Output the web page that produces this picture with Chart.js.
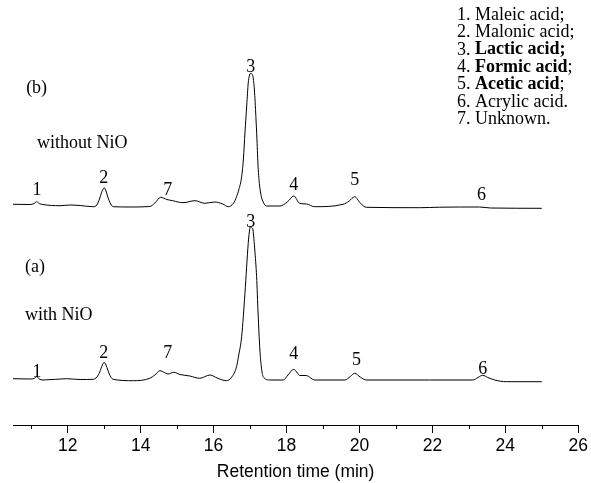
<!DOCTYPE html>
<html>
<head>
<meta charset="utf-8">
<script src="https://cdn.jsdelivr.net/npm/chart.js@4.4.0/dist/chart.umd.min.js"></script>
<style>
    body { margin: 0; background: #fff; }
</style>
</head>
<body>
<canvas id="hplcChart" width="591" height="483"></canvas>
<script>
// Retention time (min) and detector signal (offset units) for each trace
const timesB = [10.50, 10.97, 11.08, 11.15, 11.22, 11.32, 11.79, 12.06, 12.34, 12.69, 12.80, 12.88, 12.95, 13.00, 13.05, 13.10, 13.18, 13.25, 13.71, 14.25, 14.39, 14.55, 14.72, 14.88, 15.16, 15.49, 15.76, 16.03, 16.25, 16.40, 16.55, 16.63, 16.69, 16.77, 16.82, 16.86, 16.91, 16.95, 16.98, 17.01, 17.05, 17.08, 17.12, 17.16, 17.19, 17.22, 17.26, 17.31, 17.36, 17.45, 17.82, 18.03, 18.20, 18.36, 18.55, 18.77, 19.55, 19.72, 19.87, 20.02, 20.19, 21.65, 22.20, 23.29, 23.60, 25.00];
const signalB = [220.7, 220.5, 221.5, 223.3, 221.5, 220.5, 219.3, 220, 219.5, 218.3, 220, 227, 234.5, 237.3, 234, 228, 221, 218.3, 218, 218.5, 222, 227.7, 225.5, 224.3, 222.3, 224.3, 221.7, 223, 221, 218.3, 222, 228.3, 235, 248.3, 267, 292, 320, 342, 349, 351.7, 351, 348.3, 335, 308.3, 285, 258.3, 240, 228.3, 223, 219, 219, 223.3, 229, 221.7, 221, 218.3, 220.7, 224, 228.3, 222, 217.7, 217.3, 217.8, 218, 217, 216.7];

const timesA = [10.50, 10.97, 11.08, 11.15, 11.22, 11.32, 11.97, 12.34, 12.70, 12.80, 12.88, 12.95, 13.00, 13.05, 13.10, 13.18, 13.25, 13.80, 14.25, 14.39, 14.53, 14.65, 14.75, 14.91, 15.08, 15.35, 15.62, 15.90, 16.10, 16.35, 16.50, 16.63, 16.69, 16.77, 16.86, 16.95, 16.98, 17.01, 17.05, 17.08, 17.13, 17.18, 17.22, 17.27, 17.31, 17.36, 17.54, 17.91, 18.04, 18.20, 18.30, 18.36, 18.54, 18.77, 19.60, 19.75, 19.87, 20.02, 20.19, 21.92, 23.11, 23.25, 23.38, 23.52, 23.71, 24.03, 25.00];
const signalA = [46.3, 46, 46.5, 48.3, 46, 45, 46.3, 45.5, 45.7, 48, 53, 60, 62.7, 60, 55, 48, 45.7, 44.3, 46.7, 50, 54.3, 52.5, 51, 52.7, 50.5, 49, 46.7, 50, 47, 44.3, 48, 58.3, 70, 88.3, 131.7, 181.7, 193, 198.3, 197.5, 195, 175, 148.3, 112, 75, 58, 48.3, 45, 45, 50, 55.7, 52, 49.5, 49.5, 45, 45, 48.5, 51.7, 48, 45, 45, 45, 47.5, 49.7, 47.5, 45, 43.3, 43.3];

// Peak number labels: [label, time, height]
const peakLabelsB = [['1', 11.16, 235], ['2', 12.99, 247], ['7', 14.74, 235], ['3', 17.02, 358], ['4', 18.20, 240], ['5', 19.87, 245], ['6', 23.35, 230]];
const peakLabelsA = [['1', 11.16, 53], ['2', 12.99, 72], ['7', 14.74, 72], ['3', 17.02, 203], ['4', 18.20, 71], ['5', 19.92, 65], ['6', 23.38, 56]];

// Trace captions: [text, time, height]
const traceCaptions = [['(b)', 10.86, 337], ['without NiO', 11.16, 282], ['(a)', 10.83, 158], ['with NiO', 10.83, 110]];

// Compound list: [number, name, tail, bold]
const compounds = [
    ['1. ', 'Maleic acid', ';', false],
    ['2. ', 'Malonic acid', ';', false],
    ['3. ', 'Lactic acid;', '', true],
    ['4. ', 'Formic acid', ';', true],
    ['5. ', 'Acetic acid', ';', true],
    ['6. ', 'Acrylic acid.', '', false],
    ['7. ', 'Unknown.', '', false]
];

const xTicks = [12, 14, 16, 18, 20, 22, 24, 26];
const xMinorTicks = [11, 13, 15, 17, 19, 21, 23, 25];

const serif = '"Liberation Serif", "Times New Roman", serif';
const sans = '"Liberation Sans", Arial, sans-serif';

const annotations = {
    id: 'annotations',
    afterDraw(chart) {
        const ctx = chart.ctx;
        const xs = chart.scales.x;
        const ys = chart.scales.y;
        ctx.save();
        ctx.fillStyle = '#000';
        ctx.strokeStyle = '#000';

        // minor ticks
        ctx.lineWidth = 1;
        xMinorTicks.forEach(function (t) {
            const px = Math.round(xs.getPixelForValue(t)) + 0.5;
            ctx.beginPath();
            ctx.moveTo(px, xs.top);
            ctx.lineTo(px, xs.top + 4);
            ctx.stroke();
        });

        // peak numbers
        ctx.font = '18px ' + serif;
        ctx.textAlign = 'center';
        ctx.textBaseline = 'middle';
        peakLabelsB.concat(peakLabelsA).forEach(function (p) {
            ctx.fillText(p[0], xs.getPixelForValue(p[1]), ys.getPixelForValue(p[2]));
        });

        // trace captions
        ctx.textAlign = 'left';
        traceCaptions.forEach(function (c) {
            ctx.fillText(c[0], xs.getPixelForValue(c[1]), ys.getPixelForValue(c[2]));
        });

        // compound list
        let y = 15;
        compounds.forEach(function (c) {
            let x = 457;
            ctx.font = '18px ' + serif;
            ctx.fillText(c[0], x, y);
            x += ctx.measureText(c[0]).width;
            ctx.font = (c[3] ? 'bold ' : '') + '18px ' + serif;
            ctx.fillText(c[1], x, y);
            x += ctx.measureText(c[1]).width;
            ctx.font = '18px ' + serif;
            ctx.fillText(c[2], x, y);
            y += 17.4;
        });
        ctx.restore();
    }
};

function toPoints(times, values) {
    return times.map(function (t, i) { return { x: t, y: values[i] }; });
}

const ctx = document.getElementById('hplcChart').getContext('2d');
new Chart(ctx, {
    type: 'line',
    data: {
        datasets: [
            { label: 'without NiO', data: toPoints(timesB, signalB), borderColor: '#000', borderWidth: 1, pointRadius: 0, fill: false, cubicInterpolationMode: 'monotone' },
            { label: 'with NiO', data: toPoints(timesA, signalA), borderColor: '#000', borderWidth: 1, pointRadius: 0, fill: false, cubicInterpolationMode: 'monotone' }
        ]
    },
    options: {
        responsive: false,
        animation: false,
        layout: {
            padding: { left: 13, right: 12, top: 10, bottom: 0 }
        },
        plugins: {
            legend: { display: false },
            tooltip: { enabled: false }
        },
        scales: {
            x: {
                type: 'linear',
                min: 10.5,
                max: 26,
                afterBuildTicks: function (scale) {
                    scale.ticks = xTicks.map(function (v) { return { value: v }; });
                },
                border: { display: true, color: '#000', width: 1 },
                grid: { drawOnChartArea: false, drawTicks: true, tickLength: 8, color: '#000' },
                ticks: { color: '#000', padding: 3, maxRotation: 0, font: { family: sans, size: 17.5 } },
                title: {
                    display: true,
                    text: 'Retention time (min)',
                    color: '#000',
                    padding: { top: 2, bottom: 0 },
                    font: { family: sans, size: 17.5 }
                }
            },
            y: {
                display: false,
                min: 0,
                max: 415
            }
        }
    },
    plugins: [annotations]
});
</script>
</body>
</html>
